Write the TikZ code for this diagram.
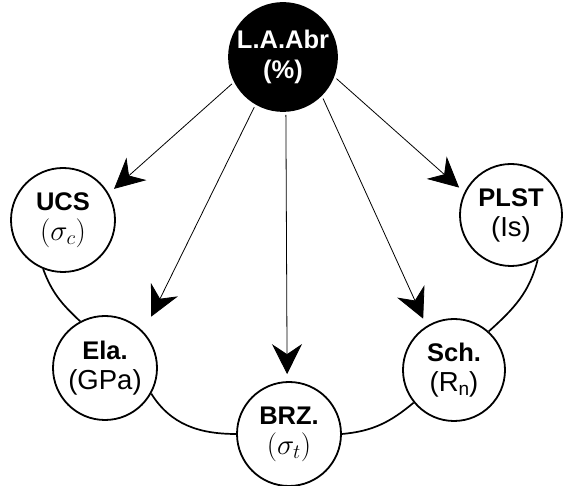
\RequirePackage{fix-cm}
\documentclass[tikz,border=0pt]{standalone}
\usepackage[no-math]{fontspec}
\setmainfont{Liberation Sans}
\usetikzlibrary{arrows.meta}
\newcommand{\subline}[1]{{\fontsize{27.5}{30}\selectfont #1}}
\newcommand{\mathline}[1]{{\fontsize{29}{30}\selectfont $#1$}}
\tikzset{
  bubble/.style={circle, draw, line width=1.8pt, inner sep=0pt, align=center,
    font=\fontsize{25.5}{30}\selectfont\bfseries, minimum size=104pt},
  hub/.style={bubble, fill=black, text=white, minimum size=108pt},
  arr/.style={line width=0.8pt, -{Stealth[length=30pt,width=30pt,inset=10pt]}, shorten <=3pt},
  ring/.style={line width=1.7pt},
}
\begin{document}
\begin{tikzpicture}[x=1pt,y=1pt]
\useasboundingbox (0,0) rectangle (565,486);
\node[hub] (top) at (283,429) {L.A.Abr\\(\%)};
\node[bubble] (ucs) at (63,266) {UCS\\\mathline{(\sigma_c)}};
\node[bubble, minimum size=102pt] (plst) at (511,271) {PLST\\\subline{\mdseries (Is)}};
\node[bubble] (ela) at (105,118) {Ela.\\\subline{\mdseries (GPa)}};
\node[bubble, minimum size=102pt] (sch) at (454,116) {Sch.\\\subline{\mdseries (R\raisebox{-0.3ex}{\fontsize{19}{19}\selectfont n})}};
\node[bubble] (brz) at (289,52) {BRZ.\\\mathline{(\sigma_t)}};

\draw[arr, shorten >=7pt] (top.-153) -- (ucs.30);
\draw[arr, shorten >=17pt] (top.-120) -- (ela.43);
\draw[arr, shorten >=7pt] (top.-87) -- (brz.92);
\draw[arr, shorten >=8pt] (top.-45) -- (sch.122);
\draw[arr, shorten >=7pt] (top.-21) -- (plst.154);

\draw[ring] (ucs.-112) to[out=-70, in=137] (ela.118);
\draw[ring] (ela.-29) to[out=-58, in=180] (brz.180);
\draw[ring] (brz.0) to[out=5, in=-140] (sch.-141);
\draw[ring] (sch.48) to[out=42, in=-104] (plst.-59);
\end{tikzpicture}
\end{document}
